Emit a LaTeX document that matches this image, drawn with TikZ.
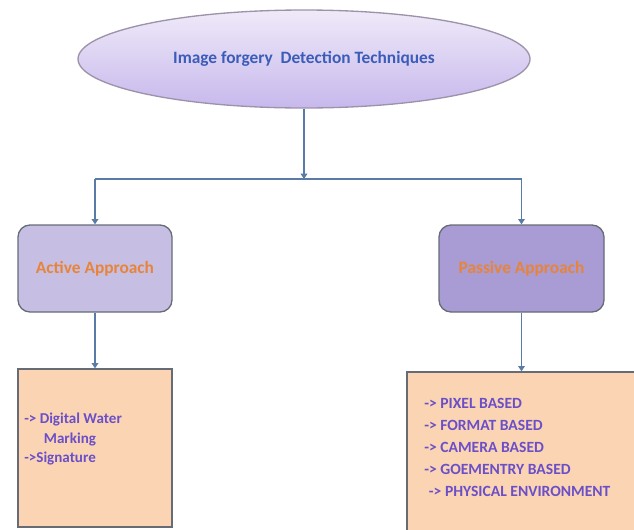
\documentclass[tikz,border=0pt]{standalone}
\usepackage{fontspec}
\setmainfont{Carlito}
\usetikzlibrary{arrows.meta,shapes.geometric,positioning}
\definecolor{linkblue}{HTML}{5A7BA8}
\definecolor{rimgray}{HTML}{9C93AA}
\definecolor{boxgray}{HTML}{666B76}
\definecolor{titleblue}{HTML}{3B5CB8}
\definecolor{ovaltop}{HTML}{EFEAF9}
\definecolor{ovalbottom}{HTML}{C7B8EC}
\definecolor{activefill}{HTML}{C6BFE3}
\definecolor{passivefill}{HTML}{A99BD3}
\definecolor{approachorange}{HTML}{E8843A}
\definecolor{peach}{HTML}{FBD5B3}
\definecolor{listpurple}{HTML}{6A4FC9}
\begin{document}
\begin{tikzpicture}[x=0.75pt,y=-0.75pt,
    conn/.style={draw=linkblue,line width=1.1pt},
    arr/.style={conn,-{Triangle[width=5pt,length=4pt]}},
    approach/.style={draw=boxgray,line width=1pt,rounded corners=9pt,minimum height=65.25pt,
      font=\bfseries\fontsize{13}{15}\selectfont,text=approachorange},
    listbox/.style={draw=boxgray,line width=1pt,fill=peach,inner sep=0pt},
    listtext/.style={text=listpurple,align=left,inner sep=0pt}]
  \useasboundingbox (0,0) rectangle (634,529);
  \clip (0,0) rectangle (634,529);
  % root of the tree
  \node[ellipse,draw=rimgray,line width=1pt,top color=ovaltop,bottom color=ovalbottom,
    minimum width=339pt,minimum height=73.5pt,text=titleblue,font=\bfseries\fontsize{13}{15}\selectfont]
    (root) at (304,59) {Image forgery\ \ Detection Techniques};
  \coordinate (split) at (304,179);
  % the two approaches
  \node[approach,fill=activefill,minimum width=115.5pt] (active) at (95,268.5) {Active Approach};
  \node[approach,fill=passivefill,minimum width=123.75pt] (passive) at (521.5,268.5) {Passive Approach};
  \node[listbox,minimum width=115.5pt,minimum height=118.5pt] (activelist) at (95,448) {};
  \node[listbox,minimum width=174.75pt,minimum height=122.25pt] (passivelist) at (523.5,453.5) {};
  \node[listtext,anchor=north west,font=\bfseries\fontsize{11.3}{14.5}\selectfont] (activeitems) at (24,413)
    {-> Digital Water\\\hspace{1.3em}Marking\\->Signature};
  \node[listtext,anchor=north west,font=\bfseries\fontsize{11.7}{16.5}\selectfont] (passiveitems) at (424,398)
    {-> PIXEL BASED\\-> FORMAT BASED\\-> CAMERA BASED\\-> GOEMENTRY BASED\\\hspace{0.3em}-> PHYSICAL ENVIRONMENT};
  % connectors
  \draw[arr] (root.south) -- (split);
  \draw[conn] (active.north |- split) -- (passive.north |- split);
  \draw[arr] (active.north |- split) -- (active.north);
  \draw[arr] (passive.north |- split) -- (passive.north);
  \draw[arr] (active.south) -- (activelist.north);
  \draw[arr] (passive.south) -- (passive.south |- passivelist.north);
\end{tikzpicture}
\end{document}
